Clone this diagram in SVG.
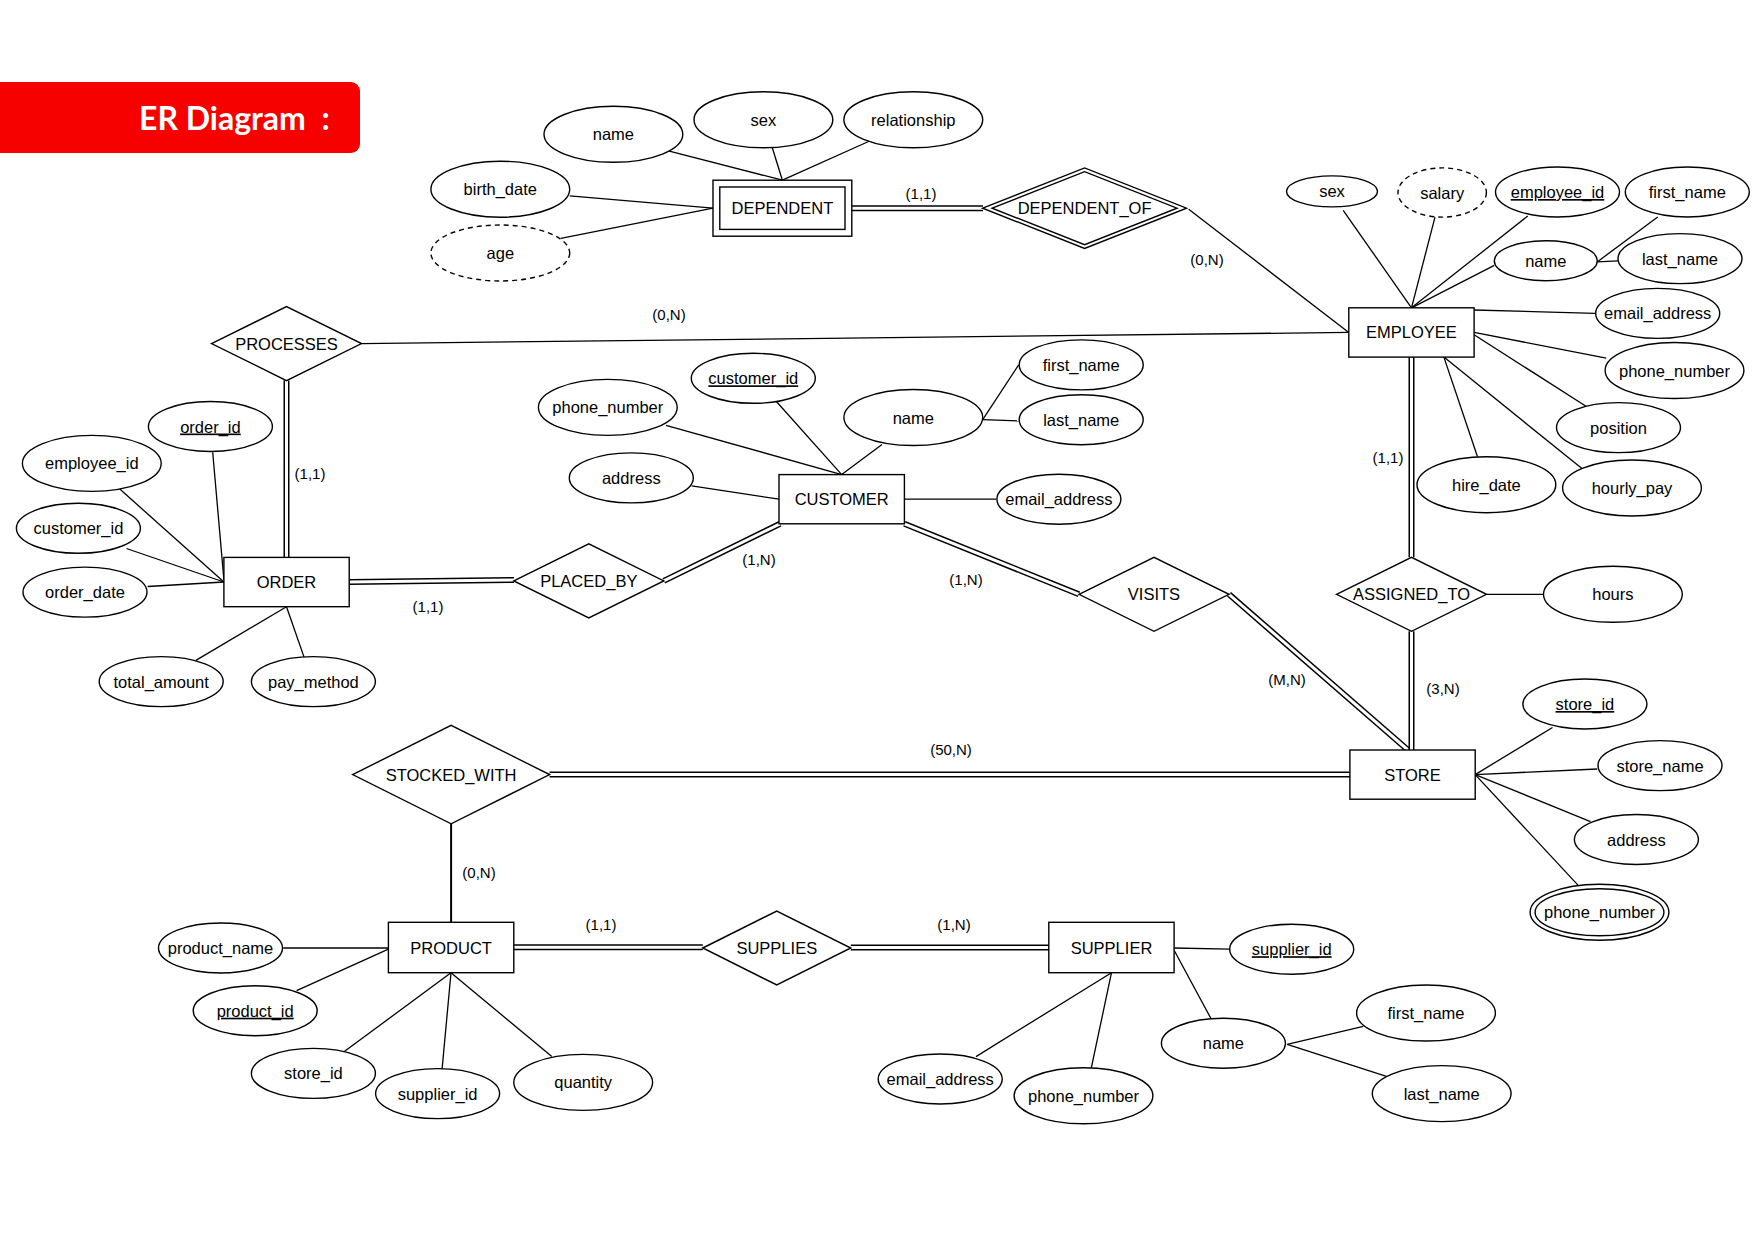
<svg xmlns="http://www.w3.org/2000/svg" width="1755" height="1241" viewBox="0 0 1755 1241">
<style>
text{font-family:"Liberation Sans",Arial,sans-serif;font-size:16.5px;fill:#000;text-anchor:middle}
.lab{font-size:15px}
.u{text-decoration:underline}
.ttl{font-family:Lato,"Open Sans",sans-serif;font-weight:bold;font-size:32px;fill:#fff;text-anchor:start}
ellipse,rect.ent,polygon{fill:#fff;stroke:#000;stroke-width:1.4}
.dash{stroke-dasharray:5 4}
.ln path{fill:none;stroke:#000;stroke-width:1.3}
.ln path.thick{stroke-width:2}
.ln path.dbo{stroke-width:6}
.ln path.dbi{stroke:#fff;stroke-width:3}
</style>
<rect x="0" y="0" width="1755" height="1241" fill="#fff"/>
<g id="title"><rect x="-12" y="82" width="372" height="71" rx="9" fill="#f70000"/><text class="ttl" x="139" y="130" xml:space="preserve">ER Diagram  :</text></g>

<g id="connectors" class="ln">
<!-- dependent -->
<path d="M669.3,151.1 L782.4,180.2"/>
<path d="M772.3,147.7 L782.4,180.2"/>
<path d="M869.7,141 L782.4,180.2"/>
<path d="M569.7,195.9 L713,208.2"/>
<path d="M560.8,238.4 L713,208.2"/>
<path d="M1188.7,209.3 L1348.8,332.4"/>
<!-- employee attrs -->
<path d="M1343.2,210.4 L1411.5,307.8"/>
<path d="M1435,217.1 L1411.5,307.8"/>
<path d="M1527.8,216 L1411.5,307.8"/>
<path d="M1494.3,265.3 L1411.5,307.8"/>
<path d="M1597.2,261.9 L1657.7,217.1"/>
<path d="M1597.2,261.9 L1618,260.8"/>
<path d="M1474.1,310 L1595,313.4"/>
<path d="M1474.1,332.4 L1606.2,358.2"/>
<path d="M1474.1,334.7 L1586,406.3"/>
<path d="M1443.9,357.1 L1477.5,456.7"/>
<path d="M1443.9,357.1 L1583.8,470.1"/>
<path d="M361.5,343.6 L1348.8,332.4"/>
<!-- order attrs -->
<path d="M212.7,452.2 L223.9,579.8"/>
<path d="M119.8,489.1 L223.9,582"/>
<path d="M126.5,548.5 L223.9,582"/>
<path d="M147.7,586.5 L223.9,582"/>
<path d="M195.9,660.4 L286.5,606.7"/>
<path d="M304.4,658.1 L286.5,606.7"/>
<!-- customer attrs -->
<path d="M775.7,400.7 L841.7,474.6"/>
<path d="M666,425.3 L841.7,474.6"/>
<path d="M882,444.4 L841.7,474.6"/>
<path d="M982.7,419.7 L1018.6,364.9"/>
<path d="M982.7,419.7 L1018.6,420.9"/>
<path d="M691.7,485.8 L779,499.2"/>
<path d="M904.4,499.2 L996.2,499.2"/>
<!-- hours -->
<path d="M1486.5,594.3 H1543.5"/>
<!-- store attrs -->
<path d="M1475.2,774.6 L1552.5,727.5"/>
<path d="M1475.2,774.6 L1597.2,769"/>
<path d="M1475.2,774.6 L1590.5,821.6"/>
<path d="M1475.2,774.6 L1578.2,885.4"/>
<!-- stocked_with to product -->
<path class="thick" d="M451.1,823.8 V922.3"/>
<!-- product attrs -->
<path d="M283.2,948 L388.4,948"/>
<path d="M296.6,990.6 L388.4,949.2"/>
<path d="M343.6,1052.1 L451,972.7"/>
<path d="M442.1,1068.9 L451,972.7"/>
<path d="M551.8,1056.6 L451,972.7"/>
<!-- supplier attrs -->
<path d="M1174.1,948 L1229.6,949.2"/>
<path d="M1174.1,950.3 L1211,1018.6"/>
<path d="M1287.2,1044.3 L1363.3,1026.4"/>
<path d="M1287.2,1044.3 L1388,1076.8"/>
<path d="M976,1056.6 L1111.5,972.7"/>
<path d="M1091.3,1067.8 L1111.5,972.7"/>
<!-- double connectors -->
<g id="dbl">
<path class="dbo" d="M852,208.2 H983"/><path class="dbi" d="M852,208.2 H983"/>
<path class="dbo" d="M286.5,380.6 V557.4"/><path class="dbi" d="M286.5,380.6 V557.4"/>
<path class="dbo" d="M349,582 L514,580"/><path class="dbi" d="M349,582 L514,580"/>
<path class="dbo" d="M663.8,580.9 L780,523.8"/><path class="dbi" d="M663.8,580.9 L780,523.8"/>
<path class="dbo" d="M904.4,523.8 L1079,594.3"/><path class="dbi" d="M904.4,523.8 L1079,594.3"/>
<path class="dbo" d="M1229,594.3 L1408,750"/><path class="dbi" d="M1229,594.3 L1408,750"/>
<path class="dbo" d="M1411.5,357.1 V557.3"/><path class="dbi" d="M1411.5,357.1 V557.3"/>
<path class="dbo" d="M1411.5,631.3 V750"/><path class="dbi" d="M1411.5,631.3 V750"/>
<path class="dbo" d="M549.6,774.6 H1350"/><path class="dbi" d="M549.6,774.6 H1350"/>
<path class="dbo" d="M513.8,947.3 H702.8"/><path class="dbi" d="M513.8,947.3 H702.8"/>
<path class="dbo" d="M850.8,947.5 H1048.8"/><path class="dbi" d="M850.8,947.5 H1048.8"/>
</g>
<g id="cardinalities">
<text class="lab" x="921" y="199">(1,1)</text>
<text class="lab" x="1207" y="265">(0,N)</text>
<text class="lab" x="669" y="320">(0,N)</text>
<text class="lab" x="310" y="479">(1,1)</text>
<text class="lab" x="428" y="612">(1,1)</text>
<text class="lab" x="759" y="565">(1,N)</text>
<text class="lab" x="966" y="585">(1,N)</text>
<text class="lab" x="1287" y="685">(M,N)</text>
<text class="lab" x="1388" y="463">(1,1)</text>
<text class="lab" x="1443" y="694">(3,N)</text>
<text class="lab" x="951" y="755">(50,N)</text>
<text class="lab" x="479" y="878">(0,N)</text>
<text class="lab" x="601" y="930">(1,1)</text>
<text class="lab" x="954" y="930">(1,N)</text>
</g>
</g>

<!-- DEPENDENT -->
<g id="dep-name"><ellipse cx="613.4" cy="134.3" rx="69.4" ry="28"/><text x="613.4" y="140.3">name</text></g>
<g id="dep-sex"><ellipse cx="763.4" cy="119.8" rx="69.4" ry="28"/><text x="763.4" y="125.8">sex</text></g>
<g id="dep-relationship"><ellipse cx="913.3" cy="119.8" rx="69.4" ry="28"/><text x="913.3" y="125.8">relationship</text></g>
<g id="dep-birth_date"><ellipse cx="500.3" cy="189.2" rx="69.4" ry="28"/><text x="500.3" y="195.2">birth_date</text></g>
<g id="dep-age"><ellipse class="dash" cx="500.3" cy="253" rx="69.4" ry="28"/><text x="500.3" y="259">age</text></g>
<g id="DEPENDENT"><rect class="ent" x="713" y="180.2" width="138.8" height="56"/><rect class="ent" x="719.8" y="187" width="125.2" height="42.4"/><text x="782.4" y="214.2">DEPENDENT</text></g>
<g id="DEPENDENT_OF"><polygon points="982.7,208.2 1084.6,167.9 1186.5,208.2 1084.6,248.5"/><polygon points="992.2,208.2 1084.6,171.7 1177,208.2 1084.6,244.7"/><text x="1084.6" y="214.2">DEPENDENT_OF</text></g>

<!-- EMPLOYEE -->
<g id="EMPLOYEE"><rect class="ent" x="1348.8" y="307.8" width="125.3" height="49.3"/><text x="1411.5" y="338.4">EMPLOYEE</text></g>
<g id="emp-sex"><ellipse cx="1332" cy="191.4" rx="45.5" ry="15.5"/><text x="1332" y="197.4">sex</text></g>
<g id="emp-salary"><ellipse class="dash" cx="1442.2" cy="192.5" rx="44.2" ry="24.6"/><text x="1442.2" y="198.5">salary</text></g>
<g id="emp-employee_id"><ellipse cx="1557.5" cy="192" rx="62" ry="25"/><text class="u" x="1557.5" y="198">employee_id</text></g>
<g id="emp-first_name"><ellipse cx="1687.3" cy="192" rx="62" ry="25"/><text x="1687.3" y="198">first_name</text></g>
<g id="emp-name"><ellipse cx="1545.8" cy="260.8" rx="51.5" ry="20"/><text x="1545.8" y="266.8">name</text></g>
<g id="emp-last_name"><ellipse cx="1680" cy="258.6" rx="62" ry="25"/><text x="1680" y="264.6">last_name</text></g>
<g id="emp-email_address"><ellipse cx="1657.7" cy="313.4" rx="62" ry="25"/><text x="1657.7" y="319.4">email_address</text></g>
<g id="emp-phone_number"><ellipse cx="1674.5" cy="370.5" rx="69.4" ry="28"/><text x="1674.5" y="376.5">phone_number</text></g>
<g id="emp-position"><ellipse cx="1618.5" cy="427.6" rx="62" ry="25"/><text x="1618.5" y="433.6">position</text></g>
<g id="emp-hire_date"><ellipse cx="1486.4" cy="484.7" rx="69.4" ry="28"/><text x="1486.4" y="490.7">hire_date</text></g>
<g id="emp-hourly_pay"><ellipse cx="1632" cy="488" rx="69.4" ry="28"/><text x="1632" y="494">hourly_pay</text></g>

<!-- PROCESSES / ORDER -->
<g id="PROCESSES"><polygon points="211.5,343.6 286.5,306.6 361.5,343.6 286.5,380.6"/><text x="286.5" y="349.6">PROCESSES</text></g>
<g id="ORDER"><rect class="ent" x="223.9" y="557.4" width="125.3" height="49.3"/><text x="286.5" y="588">ORDER</text></g>
<g id="ord-order_id"><ellipse cx="210.4" cy="426.5" rx="62" ry="25"/><text class="u" x="210.4" y="432.5">order_id</text></g>
<g id="ord-employee_id"><ellipse cx="91.8" cy="463.4" rx="69.4" ry="28"/><text x="91.8" y="469.4">employee_id</text></g>
<g id="ord-customer_id"><ellipse cx="78.4" cy="528.3" rx="62" ry="25"/><text x="78.4" y="534.3">customer_id</text></g>
<g id="ord-order_date"><ellipse cx="85" cy="592.1" rx="62" ry="25"/><text x="85" y="598.1">order_date</text></g>
<g id="ord-total_amount"><ellipse cx="161.2" cy="681.6" rx="62" ry="25"/><text x="161.2" y="687.6">total_amount</text></g>
<g id="ord-pay_method"><ellipse cx="313.4" cy="681.6" rx="62" ry="25"/><text x="313.4" y="687.6">pay_method</text></g>
<g id="PLACED_BY"><polygon points="513.8,580.9 588.8,543.9 663.8,580.9 588.8,617.9"/><text x="588.8" y="586.9">PLACED_BY</text></g>

<!-- CUSTOMER -->
<g id="CUSTOMER"><rect class="ent" x="779" y="474.6" width="125.4" height="49.2"/><text x="841.7" y="505.2">CUSTOMER</text></g>
<g id="cus-customer_id"><ellipse cx="753.3" cy="378.3" rx="62" ry="25"/><text class="u" x="753.3" y="384.3">customer_id</text></g>
<g id="cus-phone_number"><ellipse cx="607.8" cy="407.4" rx="69.4" ry="28"/><text x="607.8" y="413.4">phone_number</text></g>
<g id="cus-name"><ellipse cx="913.3" cy="417.5" rx="69.4" ry="28"/><text x="913.3" y="423.5">name</text></g>
<g id="cus-first_name"><ellipse cx="1081.2" cy="364.9" rx="62" ry="25"/><text x="1081.2" y="370.9">first_name</text></g>
<g id="cus-last_name"><ellipse cx="1081.2" cy="419.7" rx="62" ry="25"/><text x="1081.2" y="425.7">last_name</text></g>
<g id="cus-address"><ellipse cx="631.3" cy="477.9" rx="62" ry="25"/><text x="631.3" y="483.9">address</text></g>
<g id="cus-email_address"><ellipse cx="1058.9" cy="499.2" rx="62" ry="25"/><text x="1058.9" y="505.2">email_address</text></g>
<g id="VISITS"><polygon points="1079,594.3 1154,557.3 1229,594.3 1154,631.3"/><text x="1154" y="600.3">VISITS</text></g>

<!-- ASSIGNED_TO / STORE -->
<g id="ASSIGNED_TO"><polygon points="1336.5,594.3 1411.5,557.3 1486.5,594.3 1411.5,631.3"/><text x="1411.5" y="600.3">ASSIGNED_TO</text></g>
<g id="asg-hours"><ellipse cx="1612.9" cy="594.3" rx="69.4" ry="28"/><text x="1612.9" y="600.3">hours</text></g>
<g id="STORE"><rect class="ent" x="1349.9" y="750" width="125.3" height="49.2"/><text x="1412.5" y="780.6">STORE</text></g>
<g id="sto-store_id"><ellipse cx="1584.9" cy="704" rx="62" ry="25"/><text class="u" x="1584.9" y="710">store_id</text></g>
<g id="sto-store_name"><ellipse cx="1660" cy="765.6" rx="62" ry="25"/><text x="1660" y="771.6">store_name</text></g>
<g id="sto-address"><ellipse cx="1636.4" cy="839.5" rx="62" ry="25"/><text x="1636.4" y="845.5">address</text></g>
<g id="sto-phone_number"><ellipse cx="1599.5" cy="912.2" rx="69.4" ry="28"/><ellipse cx="1599.5" cy="912.2" rx="64.4" ry="23.5"/><text x="1599.5" y="918.2">phone_number</text></g>

<!-- STOCKED_WITH / PRODUCT -->
<g id="STOCKED_WITH"><polygon points="352.6,774.6 451.1,725.4 549.6,774.6 451.1,823.8"/><text x="451.1" y="780.6">STOCKED_WITH</text></g>
<g id="PRODUCT"><rect class="ent" x="388.4" y="922.3" width="125.4" height="50.4"/><text x="451.1" y="953.5">PRODUCT</text></g>
<g id="pro-product_name"><ellipse cx="220.5" cy="948" rx="62" ry="25"/><text x="220.5" y="954">product_name</text></g>
<g id="pro-product_id"><ellipse cx="255.2" cy="1010.7" rx="62" ry="25"/><text class="u" x="255.2" y="1016.7">product_id</text></g>
<g id="pro-store_id"><ellipse cx="313.4" cy="1073.4" rx="62" ry="25"/><text x="313.4" y="1079.4">store_id</text></g>
<g id="pro-supplier_id"><ellipse cx="437.6" cy="1093.6" rx="62" ry="25"/><text x="437.6" y="1099.6">supplier_id</text></g>
<g id="pro-quantity"><ellipse cx="583.2" cy="1082.4" rx="69.4" ry="28"/><text x="583.2" y="1088.4">quantity</text></g>
<g id="SUPPLIES"><polygon points="702.8,948 776.8,911 850.8,948 776.8,985"/><text x="776.8" y="954">SUPPLIES</text></g>

<!-- SUPPLIER -->
<g id="SUPPLIER"><rect class="ent" x="1048.8" y="922.3" width="125.3" height="50.4"/><text x="1111.5" y="953.5">SUPPLIER</text></g>
<g id="sup-supplier_id"><ellipse cx="1291.7" cy="949.2" rx="62" ry="25"/><text class="u" x="1291.7" y="955.2">supplier_id</text></g>
<g id="sup-name"><ellipse cx="1223.4" cy="1043.2" rx="62" ry="25"/><text x="1223.4" y="1049.2">name</text></g>
<g id="sup-first_name"><ellipse cx="1426" cy="1013" rx="69.4" ry="28"/><text x="1426" y="1019">first_name</text></g>
<g id="sup-last_name"><ellipse cx="1441.7" cy="1093.6" rx="69.4" ry="28"/><text x="1441.7" y="1099.6">last_name</text></g>
<g id="sup-email_address"><ellipse cx="940.2" cy="1079" rx="62" ry="25"/><text x="940.2" y="1085">email_address</text></g>
<g id="sup-phone_number"><ellipse cx="1083.5" cy="1095.8" rx="69.4" ry="28"/><text x="1083.5" y="1101.8">phone_number</text></g>
</svg>
